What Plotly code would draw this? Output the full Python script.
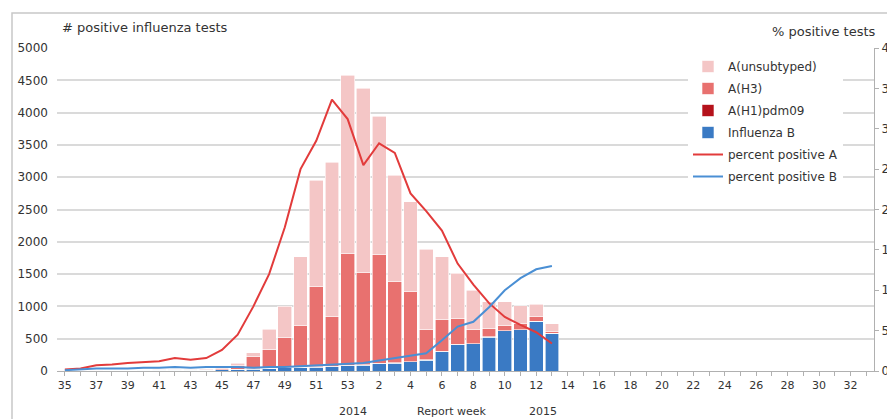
import plotly.graph_objects as go

# ---- data ----
weeks = [str(w) for w in range(35, 54)] + [str(w) for w in range(1, 34)]
tick_labels = [w if i % 2 == 0 else "" for i, w in enumerate(weeks)]
data_weeks = weeks[:32]  # 2014 w35 .. 2015 w13

flu_b = [5, 5, 5, 8, 8, 10, 10, 12, 12, 15, 20, 25, 30, 40, 50, 55, 60, 65, 80, 90,
         110, 120, 140, 170, 300, 410, 420, 525, 620, 640, 770, 585]
a_h1pdm09 = [0, 0, 0, 0, 0, 0, 0, 0, 0, 0, 0, 0, 3, 3, 5, 5, 8, 5, 8, 6,
             8, 5, 5, 3, 3, 2, 2, 2, 2, 2, 2, 2]
a_h3 = [3, 3, 5, 5, 5, 8, 8, 10, 10, 15, 20, 55, 187, 287, 465, 640, 1247, 780, 1737, 1424,
        1692, 1255, 1085, 467, 487, 408, 228, 138, 88, 98, 68, 23]
a_unsub = [3, 3, 4, 4, 5, 5, 6, 6, 8, 8, 20, 40, 65, 320, 480, 1065, 1635, 2380, 2755, 2860,
           2130, 1650, 1390, 1245, 975, 695, 600, 405, 360, 270, 190, 120]
pct_a = [0.2, 0.3, 0.7, 0.8, 1.0, 1.1, 1.2, 1.6, 1.4, 1.6, 2.6, 4.5, 8.0, 12.0, 17.8, 25.0,
         28.5, 33.6, 31.2, 25.5, 28.2, 27.0, 22.0, 19.8, 17.4, 13.3, 10.7, 8.4, 6.7, 5.7, 4.8, 3.4]
pct_b = [0.1, 0.2, 0.3, 0.3, 0.3, 0.4, 0.4, 0.5, 0.4, 0.5, 0.5, 0.5, 0.4, 0.5, 0.5, 0.6,
         0.7, 0.8, 0.9, 1.0, 1.3, 1.6, 1.9, 2.2, 3.8, 5.5, 6.1, 7.9, 10.0, 11.5, 12.6, 13.0]

FONT = "DejaVu Sans"
TXT = "#333333"

fig = go.Figure()
bar_line = dict(width=0.6, color="white")
fig.add_bar(x=data_weeks, y=flu_b, name="Influenza B", marker=dict(color="#3a7ac4", line=bar_line),
            legendrank=4, legendgroup="b")
fig.add_bar(x=data_weeks, y=a_h1pdm09, name="A(H1)pdm09", marker=dict(color="#b5121b", line=bar_line),
            legendrank=3, legendgroup="h1")
fig.add_bar(x=data_weeks, y=a_h3, name="A(H3)", marker=dict(color="#e8716f", line=bar_line),
            legendrank=2, legendgroup="h3")
fig.add_bar(x=data_weeks, y=a_unsub, name="A(unsubtyped)", marker=dict(color="#f4c6c6", line=bar_line),
            legendrank=1, legendgroup="un")
fig.add_scatter(x=data_weeks, y=pct_a, name="percent positive A", mode="lines", yaxis="y2",
                line=dict(color="#e23b3b", width=2), legendrank=5, legendgroup="pa")
fig.add_scatter(x=data_weeks, y=pct_b, name="percent positive B", mode="lines", yaxis="y2",
                line=dict(color="#4a8fd4", width=2), legendrank=6, legendgroup="pb")

# page offset of the plot div (body margin)
OFF = 8
W, H = 895, 419
PL, PR, PT, PB = 57, 874, 48, 371  # plot area in page pixels
L = PL - OFF
T = PT - OFF
R = W - (PR - OFF)
B = H - (PB - OFF)
pw, ph = PR - PL, PB - PT

def px(x):
    return (x - PL) / pw

def py(y):
    return (PB - y) / ph

fig.update_layout(
    width=W, height=H,
    margin=dict(l=L, r=R, t=T, b=B, pad=0, autoexpand=False),
    paper_bgcolor="white", plot_bgcolor="white",
    barmode="stack", bargap=0.12,
    font=dict(family=FONT, size=11, color=TXT),
    showlegend=True,
    legend=dict(x=px(688), y=py(52), xanchor="left", yanchor="top", bgcolor="white",
                font=dict(size=12, color=TXT), tracegroupgap=3, traceorder="grouped",
                itemwidth=30),
    xaxis=dict(type="category", categoryorder="array", categoryarray=weeks,
               range=[-0.5, len(weeks) - 0.5], tickmode="array", tickvals=weeks,
               ticktext=tick_labels, tickangle=0, showline=True, linecolor="#b0b0b0",
               linewidth=1, ticks="outside", ticklen=4, tickcolor="#b0b0b0",
               showgrid=False, tickfont=dict(size=11, color=TXT), automargin=False),
    yaxis=dict(range=[0, 5000], dtick=500, showgrid=True, gridcolor="#dadada", gridwidth=1.5,
               showline=False, zeroline=False, tickfont=dict(size=12, color=TXT),
               ticklabelstandoff=8, automargin=False),
    yaxis2=dict(range=[0, 40], dtick=5, overlaying="y", side="right", showgrid=False,
                showline=True, linecolor="#b0b0b0", ticks="outside", ticklen=4,
                tickcolor="#b0b0b0", zeroline=False, tickfont=dict(size=12, color=TXT),
                ticklabelstandoff=0, automargin=False),
)

fig.add_shape(type="rect", xref="paper", yref="paper", x0=px(12), x1=px(905), y0=py(430), y1=py(13),
              line=dict(color="#c8c8c8", width=1.5), layer="below")

ann = [
    ("# positive influenza tests", 60, 28, "left", 13),
    ("% positive tests", 878, 31, "right", 13),
    ("2014", 353, 411, "center", 11),
    ("Report week", 451, 411, "center", 11),
    ("2015", 543, 411, "center", 11),
]
for text, x, y, anchor, size in ann:
    fig.add_annotation(text=text, xref="paper", yref="paper", x=px(x), y=py(y),
                       xanchor=anchor, yanchor="middle", showarrow=False,
                       font=dict(family=FONT, size=size, color=TXT))

fig.write_html("out.html")
